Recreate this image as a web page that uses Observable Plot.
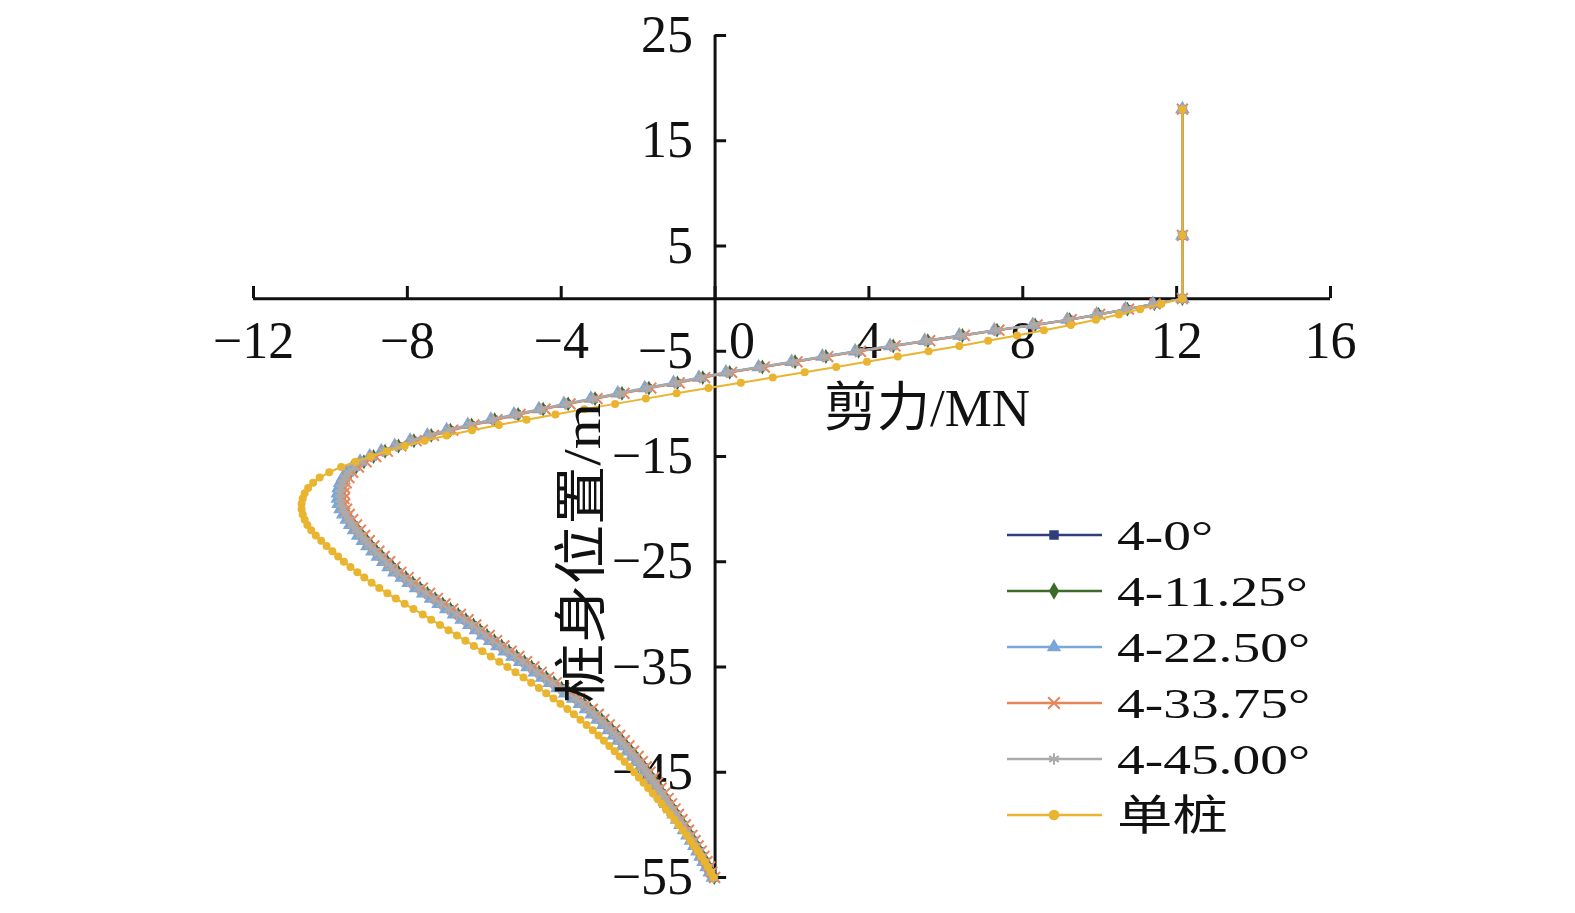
<!DOCTYPE html>
<html><head><meta charset="utf-8">
<script src="https://cdn.jsdelivr.net/npm/d3@7"></script>
<script src="https://cdn.jsdelivr.net/npm/@observablehq/plot@0.6"></script>
<style>body{margin:0;background:#fff;}</style>
</head><body><div id="chart"></div>
<script>
// 桩身位置 / m (depth of each node)
const depth = [18, 6,
  0, -0.5, -1, -1.5, -2, -2.5, -3, -3.5, -4, -4.5,
  -5, -5.5, -6, -6.5, -7, -7.5, -8, -8.5, -9, -9.5,
  -10, -10.5, -11, -11.5, -12, -12.5, -13, -13.5, -14, -14.5,
  -15, -15.5, -16, -16.5, -17, -17.5, -18, -18.5, -19, -19.5,
  -20, -20.5, -21, -21.5, -22, -22.5, -23, -23.5, -24, -24.5,
  -25, -25.5, -26, -26.5, -27, -27.5, -28, -28.5, -29, -29.5,
  -30, -30.5, -31, -31.5, -32, -32.5, -33, -33.5, -34, -34.5,
  -35, -35.5, -36, -36.5, -37, -37.5, -38, -38.5, -39, -39.5,
  -40, -40.5, -41, -41.5, -42, -42.5, -43, -43.5, -44, -44.5,
  -45, -45.5, -46, -46.5, -47, -47.5, -48, -48.5, -49, -49.5,
  -50, -50.5, -51, -51.5, -52, -52.5, -53, -53.5, -54, -54.5,
  -55];

// 剪力 / MN
const shear_4_0 = [12.15, 12.15,
  12.15, 11.4, 10.7, 9.95, 9.2, 8.3, 7.3, 6.4, 5.5, 4.6,
  3.7, 2.85, 2.05, 1.2, 0.35, -0.35, -1.0, -1.75, -2.45, -3.15,
  -3.85, -4.5, -5.15, -5.75, -6.35, -6.9, -7.4, -7.85, -8.25, -8.6,
  -8.9, -9.15, -9.35, -9.5, -9.6, -9.67, -9.71, -9.73, -9.73, -9.71,
  -9.66, -9.59, -9.5, -9.4, -9.3, -9.19, -9.07, -8.95, -8.82, -8.68,
  -8.54, -8.4, -8.25, -8.06, -7.88, -7.69, -7.5, -7.3, -7.1, -6.9,
  -6.7, -6.5, -6.3, -6.13, -5.95, -5.76, -5.57, -5.38, -5.18, -4.98,
  -4.79, -4.6, -4.41, -4.21, -4.01, -3.81, -3.6, -3.43, -3.27, -3.12,
  -2.97, -2.83, -2.69, -2.56, -2.44, -2.32, -2.2, -2.08, -1.97, -1.86,
  -1.76, -1.66, -1.56, -1.47, -1.38, -1.29, -1.2, -1.1, -1.01, -0.92,
  -0.83, -0.74, -0.65, -0.56, -0.48, -0.4, -0.32, -0.24, -0.17, -0.1,
  -0.03];
const shear_4_1125 = [12.15, 12.15,
  12.15, 11.42, 10.72, 9.97, 9.22, 8.32, 7.33, 6.43, 5.53, 4.63,
  3.73, 2.88, 2.08, 1.23, 0.38, -0.32, -0.98, -1.72, -2.42, -3.12,
  -3.82, -4.47, -5.12, -5.73, -6.33, -6.88, -7.38, -7.83, -8.23, -8.58,
  -8.88, -9.13, -9.33, -9.48, -9.58, -9.65, -9.69, -9.71, -9.71, -9.69,
  -9.64, -9.57, -9.48, -9.38, -9.28, -9.17, -9.05, -8.93, -8.8, -8.66,
  -8.52, -8.38, -8.23, -8.04, -7.86, -7.67, -7.48, -7.28, -7.08, -6.88,
  -6.68, -6.48, -6.28, -6.11, -5.93, -5.74, -5.55, -5.36, -5.16, -4.96,
  -4.77, -4.58, -4.39, -4.19, -3.99, -3.79, -3.58, -3.41, -3.25, -3.1,
  -2.95, -2.81, -2.67, -2.54, -2.42, -2.3, -2.18, -2.06, -1.95, -1.84,
  -1.74, -1.64, -1.54, -1.45, -1.36, -1.27, -1.18, -1.08, -0.99, -0.9,
  -0.81, -0.72, -0.63, -0.55, -0.47, -0.39, -0.31, -0.23, -0.16, -0.09,
  -0.02];
const shear_4_2250 = [12.15, 12.15,
  12.15, 11.38, 10.67, 9.92, 9.16, 8.26, 7.26, 6.35, 5.45, 4.55,
  3.64, 2.79, 1.99, 1.13, 0.28, -0.42, -1.08, -1.83, -2.53, -3.23,
  -3.93, -4.58, -5.23, -5.83, -6.43, -6.98, -7.48, -7.93, -8.33, -8.68,
  -8.98, -9.23, -9.43, -9.58, -9.68, -9.75, -9.79, -9.81, -9.81, -9.79,
  -9.74, -9.67, -9.58, -9.49, -9.39, -9.28, -9.16, -9.04, -8.91, -8.77,
  -8.63, -8.49, -8.34, -8.15, -7.97, -7.78, -7.59, -7.39, -7.19, -6.99,
  -6.79, -6.59, -6.39, -6.22, -6.04, -5.85, -5.66, -5.47, -5.27, -5.07,
  -4.88, -4.69, -4.5, -4.3, -4.1, -3.9, -3.69, -3.52, -3.36, -3.21,
  -3.06, -2.91, -2.77, -2.64, -2.52, -2.4, -2.28, -2.16, -2.05, -1.94,
  -1.84, -1.74, -1.64, -1.55, -1.46, -1.37, -1.27, -1.17, -1.08, -0.99,
  -0.9, -0.81, -0.72, -0.63, -0.54, -0.46, -0.38, -0.3, -0.22, -0.14,
  -0.06];
const shear_4_3375 = [12.15, 12.15,
  12.15, 11.44, 10.75, 10.0, 9.26, 8.37, 7.38, 6.48, 5.58, 4.68,
  3.78, 2.93, 2.13, 1.28, 0.43, -0.27, -0.93, -1.67, -2.37, -3.07,
  -3.77, -4.42, -5.07, -5.67, -6.27, -6.82, -7.32, -7.77, -8.17, -8.52,
  -8.82, -9.07, -9.27, -9.42, -9.52, -9.59, -9.63, -9.65, -9.65, -9.63,
  -9.58, -9.51, -9.42, -9.32, -9.22, -9.11, -8.99, -8.87, -8.74, -8.6,
  -8.46, -8.32, -8.17, -7.98, -7.8, -7.61, -7.42, -7.22, -7.02, -6.82,
  -6.62, -6.42, -6.22, -6.05, -5.87, -5.68, -5.49, -5.3, -5.1, -4.9,
  -4.71, -4.52, -4.33, -4.13, -3.93, -3.73, -3.52, -3.35, -3.19, -3.04,
  -2.89, -2.75, -2.61, -2.48, -2.36, -2.24, -2.12, -2.0, -1.89, -1.79,
  -1.69, -1.59, -1.49, -1.4, -1.31, -1.22, -1.13, -1.04, -0.95, -0.86,
  -0.77, -0.69, -0.6, -0.52, -0.44, -0.36, -0.29, -0.21, -0.14, -0.08,
  -0.01];
const shear_4_4500 = [12.15, 12.15,
  12.15, 11.41, 10.69, 9.94, 9.19, 8.29, 7.29, 6.39, 5.49, 4.59,
  3.69, 2.84, 2.03, 1.18, 0.33, -0.37, -1.02, -1.77, -2.47, -3.17,
  -3.87, -4.52, -5.17, -5.77, -6.37, -6.92, -7.42, -7.87, -8.27, -8.62,
  -8.92, -9.17, -9.37, -9.52, -9.62, -9.69, -9.73, -9.75, -9.75, -9.73,
  -9.68, -9.61, -9.52, -9.42, -9.32, -9.21, -9.09, -8.97, -8.84, -8.7,
  -8.56, -8.42, -8.27, -8.08, -7.9, -7.71, -7.52, -7.32, -7.12, -6.92,
  -6.72, -6.52, -6.32, -6.15, -5.97, -5.78, -5.59, -5.4, -5.2, -5.0,
  -4.81, -4.62, -4.43, -4.23, -4.03, -3.83, -3.62, -3.45, -3.29, -3.14,
  -2.99, -2.85, -2.71, -2.58, -2.46, -2.34, -2.22, -2.1, -1.99, -1.88,
  -1.78, -1.68, -1.58, -1.49, -1.4, -1.31, -1.22, -1.12, -1.03, -0.94,
  -0.85, -0.76, -0.67, -0.58, -0.5, -0.42, -0.34, -0.26, -0.19, -0.12,
  -0.04];
const shear_single = [12.15, 12.15,
  12.15, 11.6, 11.05, 10.5, 9.9, 9.25, 8.55, 7.85, 7.1, 6.35,
  5.55, 4.75, 3.95, 3.15, 2.33, 1.5, 0.67, -0.17, -1.0, -1.8,
  -2.6, -3.4, -4.15, -4.9, -5.62, -6.32, -6.98, -7.55, -8.07, -8.53,
  -8.95, -9.35, -9.72, -10.03, -10.28, -10.45, -10.58, -10.67, -10.72, -10.75,
  -10.75, -10.72, -10.67, -10.6, -10.5, -10.38, -10.24, -10.1, -9.95, -9.8,
  -9.65, -9.48, -9.3, -9.12, -8.93, -8.73, -8.52, -8.3, -8.07, -7.84,
  -7.6, -7.38, -7.15, -6.93, -6.71, -6.49, -6.27, -6.05, -5.83, -5.61,
  -5.4, -5.19, -4.98, -4.78, -4.58, -4.39, -4.2, -4.02, -3.84, -3.67,
  -3.5, -3.34, -3.18, -3.03, -2.89, -2.75, -2.61, -2.48, -2.35, -2.22,
  -2.1, -1.98, -1.86, -1.74, -1.62, -1.5, -1.39, -1.28, -1.17, -1.06,
  -0.95, -0.84, -0.74, -0.64, -0.54, -0.45, -0.36, -0.27, -0.19, -0.11,
  -0.04];

const seriesNames = ["4-0°", "4-11.25°", "4-22.50°", "4-33.75°", "4-45.00°", "单桩"];
const seriesValues = [shear_4_0, shear_4_1125, shear_4_2250, shear_4_3375, shear_4_4500, shear_single];
const seriesColors = ["#2f3d7c", "#3d6a2b", "#7aa6d8", "#e8845a", "#ababab", "#e9b42f"];
const seriesSymbols = ["square", "diamond", "triangle", "times", "asterisk", "circle"];
const seriesR = [4.5, 4.5, 5.4, 5, 5.2, 4];

const xTicks = [-12, -8, -4, 0, 4, 8, 12, 16];
const yTicks = [25, 15, 5, -5, -15, -25, -35, -45, -55];
const xTitle = "剪力/MN";
const yTitle = "桩身位置/m";

const FONT = '"Liberation Serif", "Noto Sans CJK SC", serif';
const fmt = d => d < 0 ? "\u2212" + Math.abs(d) : String(d);

const rows = seriesNames.map((name, i) =>
  depth.map((dp, j) => ({series: name, depth: dp, shear: seriesValues[i][j]})));

const marks = [
  Plot.ruleY([0], {x1: -12, x2: 16, stroke: "#111", strokeWidth: 3}),
  Plot.ruleX([0], {y1: -55, y2: 25, stroke: "#111", strokeWidth: 3}),
  Plot.ruleX(xTicks, {x: d => d, y1: 0, y2: 1.15, stroke: "#111", strokeWidth: 3}),
  Plot.ruleY(yTicks, {y: d => d, x1: 0, x2: 0.3, stroke: "#111", strokeWidth: 3}),
  Plot.text(xTicks.filter(d => d !== 0), {x: d => d, y: 0, text: fmt, dy: 43, fontSize: 52, fill: "#111"}),
  Plot.text(xTicks.filter(d => d === 0), {x: d => d, y: 0, text: fmt, dy: 43, dx: 27, fontSize: 52, fill: "#111"}),
  Plot.text(yTicks, {x: 0, y: d => d, text: fmt, dx: -22, textAnchor: "end", fontSize: 52, fill: "#111"})
];
seriesNames.forEach((name, i) => {
  const data = rows[i];
  const strokeSym = seriesSymbols[i] === "times" || seriesSymbols[i] === "asterisk";
  marks.push(Plot.line(data, {x: "shear", y: "depth", stroke: seriesColors[i], strokeWidth: 2, curve: "linear"}));
  marks.push(Plot.dot(data, {
    x: "shear", y: "depth", symbol: seriesSymbols[i], r: seriesR[i],
    fill: strokeSym ? "none" : seriesColors[i],
    stroke: strokeSym ? seriesColors[i] : "none",
    strokeWidth: strokeSym ? 2 : 0
  }));
});

const svg = Plot.plot({
  width: 1575, height: 913,
  marginLeft: 253, marginRight: 245, marginTop: 35, marginBottom: 36,
  x: {domain: [-12, 16], axis: null},
  y: {domain: [-55, 25], axis: null},
  style: {fontFamily: FONT, background: "#fff"},
  marks
});
document.getElementById("chart").appendChild(svg);

// Axis titles and legend
const g = d3.select(svg).append("g").attr("font-family", FONT).attr("fill", "#111");
g.append("text").attr("x", 927).attr("y", 407).attr("dy", "0.35em")
  .attr("text-anchor", "middle").attr("font-size", 53).text(xTitle);
g.append("text").attr("transform", "translate(581,553) rotate(-90) scale(1.12,1)")
  .attr("dy", "0.35em").attr("text-anchor", "middle").attr("font-size", 53).text(yTitle);

const symMap = {square: d3.symbolSquare, diamond: d3.symbolDiamond, triangle: d3.symbolTriangle,
  times: d3.symbolTimes, asterisk: d3.symbolAsterisk, circle: d3.symbolCircle};
const leg = g.append("g");
seriesNames.forEach((name, i) => {
  const y = 535 + i * 56;
  leg.append("line").attr("x1", 1007).attr("x2", 1102).attr("y1", y).attr("y2", y)
    .attr("stroke", seriesColors[i]).attr("stroke-width", 2.5);
  const strokeSym = seriesSymbols[i] === "times" || seriesSymbols[i] === "asterisk";
  leg.append("path").attr("transform", `translate(1054,${y})`)
    .attr("d", d3.symbol(symMap[seriesSymbols[i]], 90)())
    .attr("fill", strokeSym ? "none" : seriesColors[i])
    .attr("stroke", strokeSym ? seriesColors[i] : "none").attr("stroke-width", 2);
  leg.append("text").attr("transform", `translate(1117,${y}) scale(1.32,1)`)
    .attr("text-anchor", "start")
    .attr("dy", "0.35em").attr("font-size", 42).text(name);
});
</script>
</body></html>
